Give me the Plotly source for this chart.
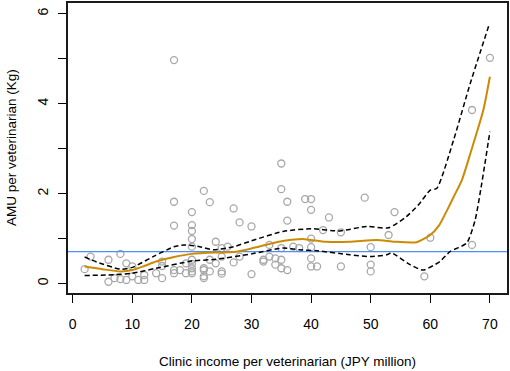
import plotly.graph_objects as go

income = [2, 3, 6, 6, 7, 8, 8, 9, 9, 10, 10, 11, 12, 12, 14, 15, 15, 15,
          17, 17, 17, 17, 17, 18, 19, 19, 20, 20, 20, 20, 20, 20, 20, 20, 20, 20,
          22, 22, 22, 22, 22, 23, 23, 23, 24, 24, 25, 25, 25, 25, 26, 27, 27,
          28, 28, 30, 30, 32, 32, 33, 33, 34, 34, 35, 35, 35, 35, 35, 36, 36, 36,
          37, 38, 39, 40, 40, 40, 40, 40, 40, 41, 42, 43, 45, 45, 49, 50, 50, 50,
          53, 54, 59, 60, 67, 67, 70]
amu = [0.32, 0.60, 0.53, 0.04, 0.12, 0.66, 0.10, 0.45, 0.08, 0.38, 0.16, 0.08, 0.19, 0.08,
       0.23, 0.49, 0.39, 0.12,
       4.97, 1.82, 1.29, 0.23, 0.30, 0.30, 0.45, 0.23,
       1.59, 1.30, 1.17, 0.99, 0.82, 0.53, 0.44, 0.34, 0.27, 0.23,
       2.06, 0.34, 0.30, 0.16, 0.12, 1.81, 0.53, 0.27, 0.93, 0.45,
       0.79, 0.60, 0.27, 0.22, 0.82, 1.67, 0.47, 1.36, 0.60, 1.27, 0.21,
       0.53, 0.49, 0.60, 0.86, 0.56, 0.42, 2.67, 2.10, 0.79, 0.53, 0.34,
       1.82, 1.40, 0.30, 0.82, 0.79, 1.88, 1.88, 1.64, 1.00, 0.81, 0.56, 0.38,
       0.38, 1.19, 1.47, 1.14, 0.38, 1.91, 0.81, 0.42, 0.27,
       1.08, 1.59, 0.16, 1.02, 0.86, 3.86, 5.02]

fit_x = [2, 5, 8, 10, 12, 14, 17, 20, 24, 27, 30, 33, 35.5, 38.5, 40, 42.5, 46.5, 51, 54, 57.7,
         60, 61.5, 62.7, 64, 65.3, 66.9, 68.9, 70]
fit_y = [0.38, 0.32, 0.27, 0.30, 0.39, 0.49, 0.59, 0.66, 0.69, 0.70, 0.78, 0.88, 0.95, 0.99, 0.97,
         0.93, 0.93, 0.97, 0.93, 0.92, 1.08, 1.30, 1.60, 1.95, 2.30, 2.97, 3.86, 4.60]

upper_x = [2, 4, 8, 10, 13.5, 17, 18.8, 21.3, 23.6, 27, 30, 35.3, 40, 44.8, 49.3, 53, 56,
           58, 60, 61.1, 63.9, 66.7, 69.9]
upper_y = [0.59, 0.48, 0.32, 0.36, 0.60, 0.82, 0.86, 0.82, 0.75, 0.82, 0.95, 1.16, 1.22, 1.17,
           1.27, 1.24, 1.49, 1.75, 2.08, 2.12, 3.19, 4.45, 5.77]

lower_x = [2, 6, 10, 14, 20, 24, 30, 35.3, 38, 41, 46.5, 50, 52.7, 53.5, 56.6, 58.8, 61.6,
           63.3, 66.1, 67.5, 68.6, 70]
lower_y = [0.18, 0.19, 0.23, 0.34, 0.50, 0.54, 0.66, 0.79, 0.75, 0.73, 0.64, 0.60, 0.64, 0.68,
           0.42, 0.30, 0.49, 0.71, 0.90, 1.40, 2.20, 3.38]

ref_level = 0.71
x_ticks = [0, 10, 20, 30, 40, 50, 60, 70]
y_ticks = [0, 1, 2, 3, 4, 5, 6]
y_ticktext = ["0", "", "2", "", "4", "", "6"]
x_title = "Clinic income per veterinarian (JPY million)"
y_title = "AMU per veterinarian (Kg)"

FONT = "Arial, Liberation Sans, sans-serif"

fig = go.Figure()
fig.add_trace(go.Scatter(x=income, y=amu, mode="markers",
                         marker=dict(symbol="circle-open", size=7, color="#a8a8a8",
                                     line=dict(width=1.3, color="#a8a8a8")),
                         showlegend=False, cliponaxis=False))
fig.add_trace(go.Scatter(x=[-5, 80], y=[ref_level, ref_level], mode="lines",
                         line=dict(color="#4f8ef5", width=1.4), showlegend=False))
fig.add_trace(go.Scatter(x=upper_x, y=upper_y, mode="lines",
                         line=dict(color="black", width=1.5, dash="5px,3px", shape="spline", smoothing=0.6),
                         showlegend=False))
fig.add_trace(go.Scatter(x=lower_x, y=lower_y, mode="lines",
                         line=dict(color="black", width=1.5, dash="5px,3px", shape="spline", smoothing=0.6),
                         showlegend=False))
fig.add_trace(go.Scatter(x=fit_x, y=fit_y, mode="lines",
                         line=dict(color="#cc8a05", width=2, shape="spline", smoothing=0.6),
                         showlegend=False))

fig.update_layout(
    width=510, height=371,
    margin=dict(l=68, r=3, t=3, b=78, autoexpand=False),
    paper_bgcolor="white", plot_bgcolor="white",
    font=dict(family=FONT, size=13.5, color="black"),
    annotations=[
        dict(text=x_title, xref="paper", yref="paper", x=0.5, y=0, yshift=-68,
             xanchor="center", yanchor="middle", showarrow=False, font=dict(size=13.5)),
        dict(text=y_title, xref="paper", yref="paper", x=0, y=0.5, xshift=-57,
             xanchor="center", yanchor="middle", textangle=-90, showarrow=False,
             font=dict(size=13.5)),
    ],
)
fig.update_xaxes(range=[-0.79, 72.87], tickmode="array", tickvals=x_ticks, ticks="outside",
                 ticklen=8, tickcolor="black", tickwidth=1.3, showgrid=False, zeroline=False,
                 showline=True, linecolor="#1a1a1a", linewidth=2, mirror=True, automargin=False,
                 ticklabelstandoff=9, tickfont=dict(size=14))
fig.update_yaxes(range=[-0.21, 6.24], tickmode="array", tickvals=y_ticks, ticktext=y_ticktext,
                 ticks="outside", ticklen=8, tickcolor="black", tickwidth=1.3, showgrid=False,
                 zeroline=False, showline=True, linecolor="#1a1a1a", linewidth=2, mirror=True,
                 tickangle=-90, automargin=False, ticklabelstandoff=4, tickfont=dict(size=14))

fig.write_html("out.html", config={"displayModeBar": False},
               post_script="document.body.style.margin='0';document.body.style.padding='0';")
